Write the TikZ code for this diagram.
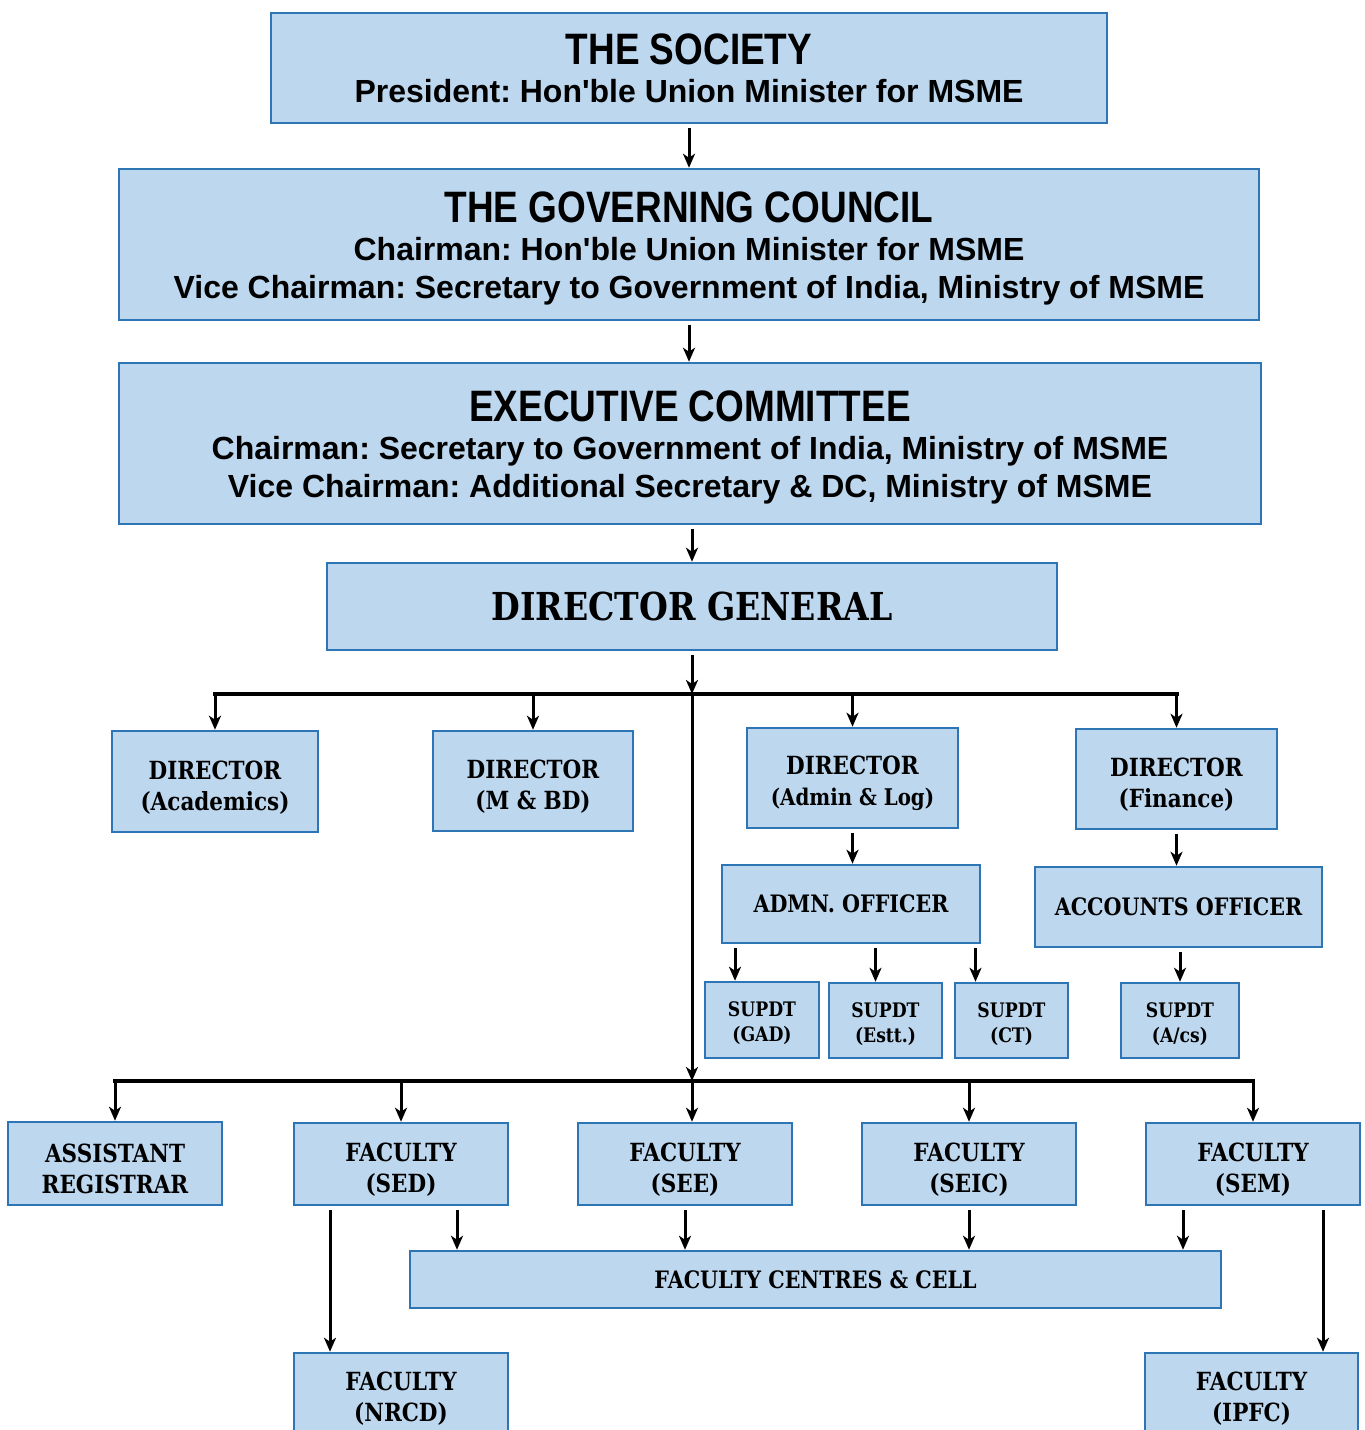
\documentclass[tikz,border=0pt]{standalone}
\usepackage{fontspec}
\usetikzlibrary{arrows.meta}
\newfontfamily\hdfont{Liberation Sans}[FakeStretch=0.84]
\newfontfamily\sbfont{Liberation Sans}
\newfontfamily\lofont{DejaVu Serif}[FakeStretch=0.86]
\definecolor{boxfill}{RGB}{189,215,238}
\definecolor{boxline}{RGB}{46,117,182}
\newcommand{\hd}[2][38pt]{{\hdfont\bfseries\fontsize{44}{44}\selectfont\rule{0pt}{#1}#2}}
\newcommand{\up}[1][30pt]{\rule{0pt}{#1}}
\tikzset{
  box/.style={rectangle, draw=boxline, fill=boxfill, line width=2.5pt, inner sep=0pt, align=center},
  topbox/.style={box, font=\frenchspacing\sbfont\bfseries\fontsize{32}{38}\selectfont},
  unitbox/.style={box, font=\lofont\bfseries\fontsize{25}{31}\selectfont},
  onebox/.style={box, font=\lofont\bfseries\fontsize{24}{31}\selectfont},
  supbox/.style={box, font=\lofont\bfseries\fontsize{20}{25}\selectfont},
  link/.style={-{Stealth[length=14pt,width=12pt,inset=4pt]}, line width=3pt},
  gap/.style={shorten <=4pt},
  bus/.style={line width=4pt, line cap=rect},
}
\begin{document}
\begin{tikzpicture}[x=1pt, y=-1pt]
    \useasboundingbox (0,0) rectangle (1365,1430);
    % top of the chart
    \node[topbox, minimum width=836pt, minimum height=110pt] (soc) at (689,68) {\hd[32pt]{THE SOCIETY}\\President: Hon'ble Union Minister for MSME};
    \node[topbox, minimum width=1140pt, minimum height=151pt] (gc) at (689,244.5) {\hd{THE GOVERNING COUNCIL}\\Chairman: Hon'ble Union Minister for MSME\\Vice Chairman: Secretary to Government of India, Ministry of MSME};
    \node[topbox, minimum width=1142pt, minimum height=161pt] (ec) at (690,443.5) {\hd{EXECUTIVE COMMITTEE}\\Chairman: Secretary to Government of India, Ministry of MSME\\Vice Chairman: Additional Secretary \& DC, Ministry of MSME};
    \node[box, minimum width=730pt, minimum height=87pt, font=\lofont\bfseries\fontsize{38.5}{40}\selectfont] (dg) at (692,606.5) {DIRECTOR GENERAL};
    % directors
    \node[unitbox, minimum width=206pt, minimum height=101pt] (dacad) at (215,781.5) {\up DIRECTOR\\(Academics)};
    \node[unitbox, minimum width=200pt, minimum height=100pt] (dmbd) at (533,781) {\up DIRECTOR\\(M \& BD)};
    \node[unitbox, minimum width=211pt, minimum height=100pt] (dadm) at (852.5,778) {\up DIRECTOR\\{\fontsize{23}{28}\selectfont(Admin \& Log)}};
    \node[unitbox, minimum width=201pt, minimum height=100pt] (dfin) at (1176.5,779) {\up DIRECTOR\\(Finance)};
    \node[onebox, minimum width=258pt, minimum height=78pt] (adm) at (851,904) {ADMN. OFFICER};
    \node[onebox, minimum width=287pt, minimum height=80pt] (acc) at (1178.5,907) {ACCOUNTS OFFICER};
    \node[supbox, minimum width=114pt, minimum height=76pt] (sgad) at (762,1020) {\up[22pt]SUPDT\\(GAD)};
    \node[supbox, minimum width=113pt, minimum height=75pt] (sest) at (885.5,1020.5) {\up[22pt]SUPDT\\(Estt.)};
    \node[supbox, minimum width=113pt, minimum height=75pt] (sct) at (1011.5,1020.5) {\up[22pt]SUPDT\\(CT)};
    \node[supbox, minimum width=118pt, minimum height=75pt] (sacs) at (1180,1020.5) {\up[22pt]SUPDT\\(A/cs)};
    % faculties
    \node[unitbox, minimum width=214pt, minimum height=83pt] (areg) at (115,1163.5) {\up ASSISTANT\\REGISTRAR};
    \node[unitbox, minimum width=214pt, minimum height=82pt] (fsed) at (401,1164) {\up FACULTY\\(SED)};
    \node[unitbox, minimum width=214pt, minimum height=82pt] (fsee) at (685,1164) {\up FACULTY\\(SEE)};
    \node[unitbox, minimum width=214pt, minimum height=82pt] (fseic) at (969,1164) {\up FACULTY\\(SEIC)};
    \node[unitbox, minimum width=214pt, minimum height=82pt] (fsem) at (1253,1164) {\up FACULTY\\(SEM)};
    \node[onebox, minimum width=811pt, minimum height=57pt] (fcc) at (815.5,1279.5) {FACULTY CENTRES \& CELL};
    \node[unitbox, minimum width=214pt, minimum height=92pt] (fnrcd) at (401,1399) {FACULTY\\(NRCD)};
    \node[unitbox, minimum width=213pt, minimum height=92pt] (fipfc) at (1251.5,1399) {FACULTY\\(IPFC)};
    \coordinate (b1) at (692,694);
    \coordinate (b2) at (692,1081);
    % connectors
    \draw[link, gap] (soc) -- (gc);
    \draw[link, gap] (gc) -- (gc |- ec.north);
    \draw[link, gap] (ec.south -| dg) -- (dg);
    \draw[link, gap] (dg) -- (b1);
    \draw[bus] (b1 -| dacad) -- (b1 -| dfin);
    \foreach \n in {dacad,dmbd,dadm,dfin}
        \draw[link] (b1 -| \n) -- (\n);
    \draw[link] (b1) -- (b2);
    \draw[bus] (b2 -| areg) -- (b2 -| fsem);
    \foreach \n in {areg,fsed,fseic,fsem}
        \draw[link] (b2 -| \n) -- (\n);
    \draw[link] (b2) -- (b2 |- fsee.north);
    \draw[link, gap] (dadm) -- (dadm |- adm.north);
    \draw[link, gap] (dfin) -- (dfin |- acc.north);
    \draw[link, gap] ([xshift=-27pt]sgad.north |- adm.south) -- ([xshift=-27pt]sgad.north);
    \draw[link, gap] ([xshift=-10pt]sest.north |- adm.south) -- ([xshift=-10pt]sest.north);
    \draw[link, gap] ([xshift=-36pt]sct.north |- adm.south) -- ([xshift=-36pt]sct.north);
    \draw[link, gap] (acc.south -| sacs) -- (sacs);
    \draw[link, gap] ([xshift=56pt]fsed.south) -- ([xshift=56pt]fsed.south |- fcc.north);
    \draw[link, gap] (fsee.south) -- (fsee.south |- fcc.north);
    \draw[link, gap] (fseic.south) -- (fseic.south |- fcc.north);
    \draw[link, gap] ([xshift=-70pt]fsem.south) -- ([xshift=-70pt]fsem.south |- fcc.north);
    \draw[link, gap] ([xshift=-71pt]fsed.south) -- ([xshift=-71pt]fsed.south |- fnrcd.north);
    \draw[link, gap] ([xshift=70pt]fsem.south) -- ([xshift=70pt]fsem.south |- fipfc.north);
\end{tikzpicture}
\end{document}
